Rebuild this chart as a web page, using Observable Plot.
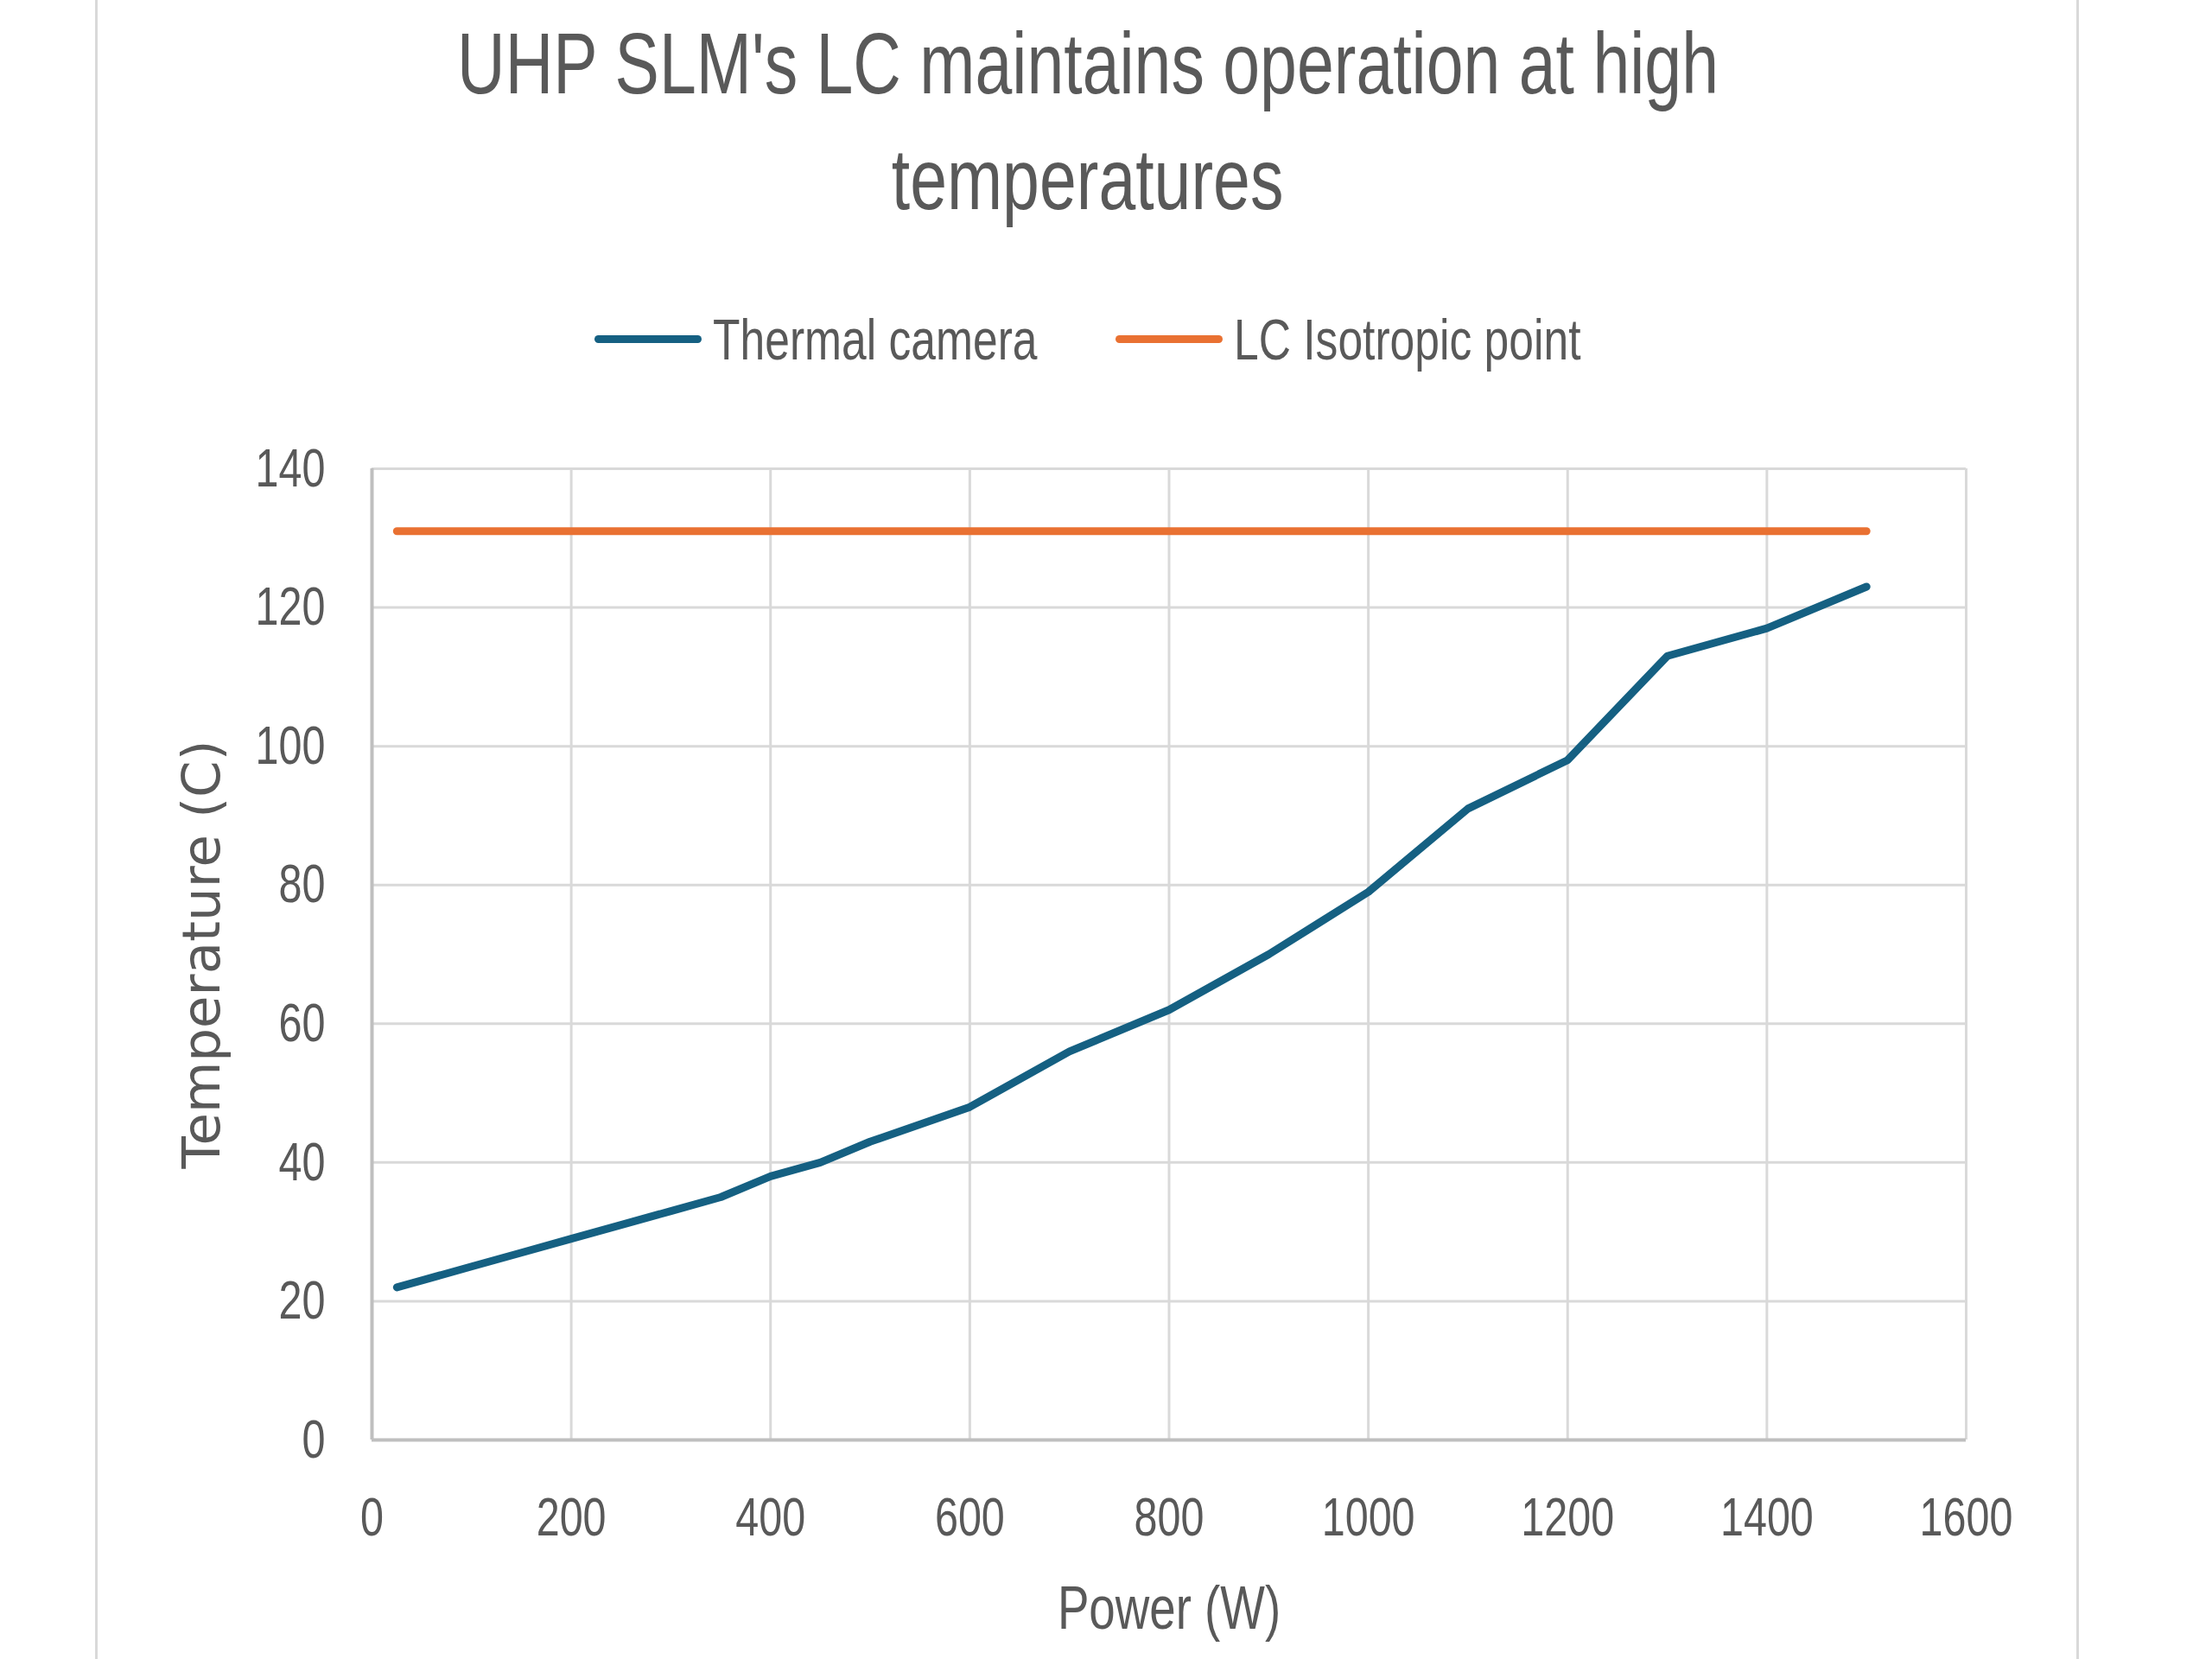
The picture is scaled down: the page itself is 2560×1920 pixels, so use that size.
<!DOCTYPE html>
<html>
<head>
<meta charset="utf-8">
<script src="https://cdn.jsdelivr.net/npm/d3@7"></script>
<script src="https://cdn.jsdelivr.net/npm/@observablehq/plot@0.6"></script>
<style>
  html, body { margin: 0; padding: 0; background: #fff; }
  #wrap { position: relative; width: 2560px; height: 1920px; overflow: hidden; background: #fff; }
  .frame { position: absolute; top: 0; height: 1920px; width: 3px; background: #d9d9d9; z-index: 5; }
  #title { position: absolute; left: 111px; width: 2296px; top: 6px; text-align: center;
    font-family: "Liberation Sans", Arial, sans-serif;
    font-size: 100px; line-height: 134px; color: #595959; }
  #title .ln { white-space: nowrap; }
  .cz { display: inline-block; transform: scaleX(0.77); transform-origin: 50% 50%; }
  #legend { position: absolute; left: 111px; width: 2296px; top: 352px; height: 80px;
    display: flex; justify-content: center; align-items: center;
    font-family: "Liberation Sans", Arial, sans-serif;
    font-size: 67px; color: #595959; }
  .item { display: flex; align-items: center; }
  .item + .item { margin-left: 90px; }
  .sw { width: 124px; height: 9px; border-radius: 4.5px; margin-right: 13px; }
  .lt { display: inline-block; white-space: nowrap; transform-origin: 0 50%; }
  #chart { position: absolute; left: 0; top: 460px; z-index: 1; }
</style>
</head>
<body>
<div id="wrap">
  <div class="frame" style="left:110px"></div>
  <div class="frame" style="left:2403px"></div>
  <div id="title">
    <div class="ln"><span class="cz">UHP SLM's LC maintains operation at high</span></div>
    <div class="ln"><span class="cz">temperatures</span></div>
  </div>
  <div id="legend"></div>
  <div id="chart"></div>
</div>
<script>
// Data
const power   = [25, 50, 100, 150, 200, 250, 300, 350, 400, 450, 500, 600, 700, 800, 900, 1000, 1100, 1200, 1300, 1400, 1500];
const thermal = [22, 23, 25, 27, 29, 31, 33, 35, 38, 40, 43, 48, 56, 62, 70, 79, 91, 98, 113, 117, 123];
const isoPower = [25, 1500];
const isoTemp  = [131, 131];
const seriesNames = ["Thermal camera", "LC Isotropic point"];
const seriesColors = ["#156082", "#E97132"];
const xTicks = [0, 200, 400, 600, 800, 1000, 1200, 1400, 1600];
const yTicks = [0, 20, 40, 60, 80, 100, 120, 140];
const xLabel = "Power (W)";
const yLabel = "Temperature (C)";

const K = 0.77; // horizontal condensing to mimic a narrow typeface

const thermalData = power.map((p, i) => ({p, t: thermal[i]}));
const isoData = isoPower.map((p, i) => ({p, t: isoTemp[i]}));

// legend
const legend = document.getElementById("legend");
const legendTexts = [];
seriesNames.forEach((name, i) => {
  const it = document.createElement("div");
  it.className = "item";
  const sw = document.createElement("div");
  sw.className = "sw";
  sw.style.background = seriesColors[i];
  const tx = document.createElement("span");
  tx.className = "lt";
  tx.textContent = name;
  it.appendChild(sw); it.appendChild(tx);
  legend.appendChild(it);
  legendTexts.push(tx);
});
legendTexts.forEach(tx => {
  const w = tx.offsetWidth;
  tx.style.transform = `scaleX(${K})`;
  tx.style.marginRight = `${-(1 - K) * w}px`;
});

const sans = '"Liberation Sans", Arial, sans-serif';
const chart = Plot.plot({
  width: 2560,
  height: 1460,
  marginLeft: 430,
  marginRight: 285,
  marginTop: 82,
  marginBottom: 254,
  style: { fontFamily: sans, fontSize: "63px", color: "#595959", background: "transparent" },
  x: { domain: [0, 1600] },
  y: { domain: [0, 140] },
  marks: [
    Plot.gridX(xTicks, { stroke: "#d9d9d9", strokeOpacity: 1, strokeWidth: 3 }),
    Plot.gridY(yTicks, { stroke: "#d9d9d9", strokeOpacity: 1, strokeWidth: 3 }),
    Plot.ruleX([0], { stroke: "#bfbfbf", strokeWidth: 4 }),
    Plot.ruleY([0], { stroke: "#bfbfbf", strokeWidth: 4 }),
    Plot.axisX(xTicks, { tickSize: 0, tickPadding: 66, label: null, fill: "#595959", fontSize: 63, tickFormat: d => String(d), className: "cond" }),
    Plot.axisY(yTicks, { tickSize: 0, tickPadding: 54, label: null, fill: "#595959", fontSize: 63, tickFormat: d => String(d), className: "cond" }),
    Plot.text([xLabel], { frameAnchor: "bottom", dy: 196, lineAnchor: "middle", textAnchor: "middle", fontSize: 71, fill: "#595959", className: "cond" }),
    Plot.text([yLabel], { frameAnchor: "left", dx: -196, rotate: -90, lineAnchor: "middle", textAnchor: "middle", fontSize: 61,
      fill: "#595959", fontFamily: '"DejaVu Sans", sans-serif' }),
    Plot.line(isoData, { x: "p", y: "t", stroke: seriesColors[1], strokeWidth: 9, strokeLinecap: "round", strokeLinejoin: "round" }),
    Plot.line(thermalData, { x: "p", y: "t", stroke: seriesColors[0], strokeWidth: 9, strokeLinecap: "round", strokeLinejoin: "round" })
  ]
});
document.getElementById("chart").appendChild(chart);

// condense axis tick labels and x label horizontally
d3.select(chart).selectAll("g.cond text, .cond text").each(function () {
  const w = this.getComputedTextLength();
  this.setAttribute("textLength", (w * K).toFixed(1));
  this.setAttribute("lengthAdjust", "spacingAndGlyphs");
});
</script>
</body>
</html>
